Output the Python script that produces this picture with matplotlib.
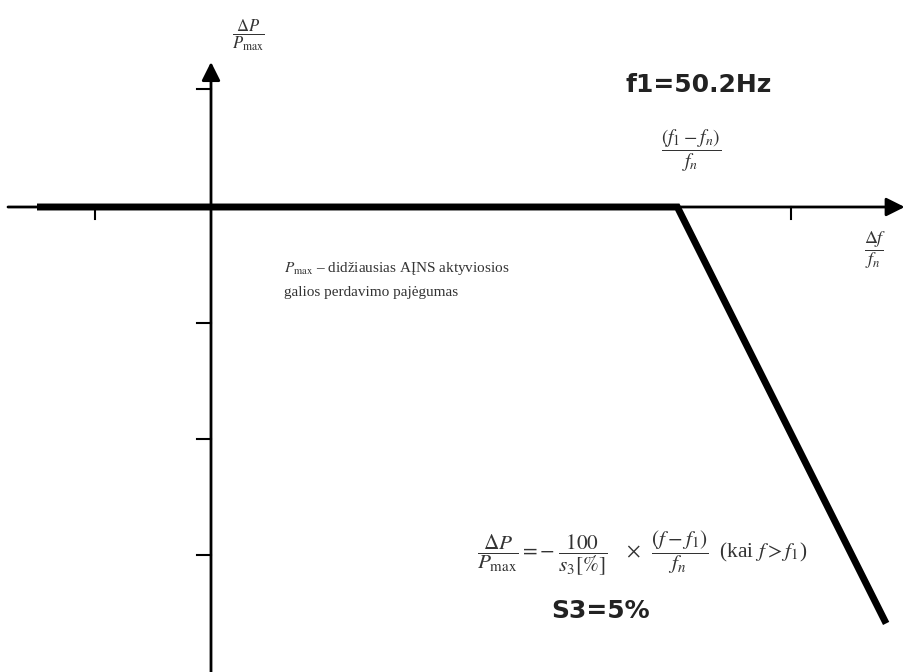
import matplotlib.pyplot as plt

plt.rcParams['mathtext.fontset'] = 'stix'

# characteristic (units of dP/Pmax vs df/fn, scaled to the sketch grid)
line_x = [-1.5, 4.02, 5.82]
line_y = [0.0, 0.0, -3.59]

# tick marks on the axes
xticks = [-1, 5]
yticks = [1.02, -1, -2, -3]

f1_label = 'f1=50.2Hz'
s3_label = 'S3=5%'
pmax_note = ['$P_{\\max}$ – didžiausias AĮNS aktyviosios',
             'galios perdavimo pajėgumas']

fig = plt.figure(figsize=(9.08, 6.72), dpi=100)
ax = fig.add_axes([0, 0, 1, 1])
ax.set_xlim(-211 / 116, (908 - 211) / 116)
ax.set_ylim(-(672 - 207) / 116, 207 / 116)
ax.axis('off')

# axes with arrows
ax.annotate('', xy=(5.98, 0), xytext=(-1.75, 0),
            arrowprops=dict(arrowstyle='-|>', lw=2, color='black',
                            mutation_scale=28, shrinkA=0, shrinkB=0))
ax.annotate('', xy=(0, 1.25), xytext=(0, -4.01),
            arrowprops=dict(arrowstyle='-|>', lw=2, color='black',
                            mutation_scale=28, shrinkA=0, shrinkB=0))

for t in xticks:
    ax.plot([t, t], [0, -0.1], color='black', lw=1.5)
for t in yticks:
    ax.plot([-0.12, 0], [t, t], color='black', lw=1.5)

ax.plot(line_x, line_y, color='black', lw=5, solid_joinstyle='miter',
        solid_capstyle='butt')

# labels
ax.text(0.32, 1.48, r'$\dfrac{\Delta P}{P_{\max}}$', ha='center', va='center',
        fontsize=12, color='#333333')
ax.text(5.73, -0.37, r'$\dfrac{\Delta f}{f_n}$', ha='center', va='center',
        fontsize=13, color='#333333')
ax.text(4.14, 0.48, r'$\dfrac{(f_1-f_n)}{f_n}$', ha='center', va='center',
        fontsize=14, color='#333333')
ax.text(4.2, 1.05, f1_label, ha='center', va='center', fontsize=18,
        fontweight='bold', color='#222222')

ax.text(0.63, -0.53, pmax_note[0], ha='left', va='center', fontsize=11,
        family='Liberation Serif', color='#333333')
ax.text(0.63, -0.74, pmax_note[1], ha='left', va='center', fontsize=11,
        family='Liberation Serif', color='#333333')

ax.text(2.29, -2.99,
        r'$\dfrac{\Delta P}{P_{\max}}=-\;\dfrac{\mathit{100}}{s_3[\%]}\quad\times\;\;\dfrac{(f-f_1)}{f_n}$'
        r'  (kai $f>f_1$)',
        ha='left', va='center', fontsize=15.3, color='#333333',
        family='Liberation Serif')
ax.text(3.36, -3.48, s3_label, ha='center', va='center', fontsize=18,
        fontweight='bold', color='#222222')

fig.savefig('out.png', dpi=100)
